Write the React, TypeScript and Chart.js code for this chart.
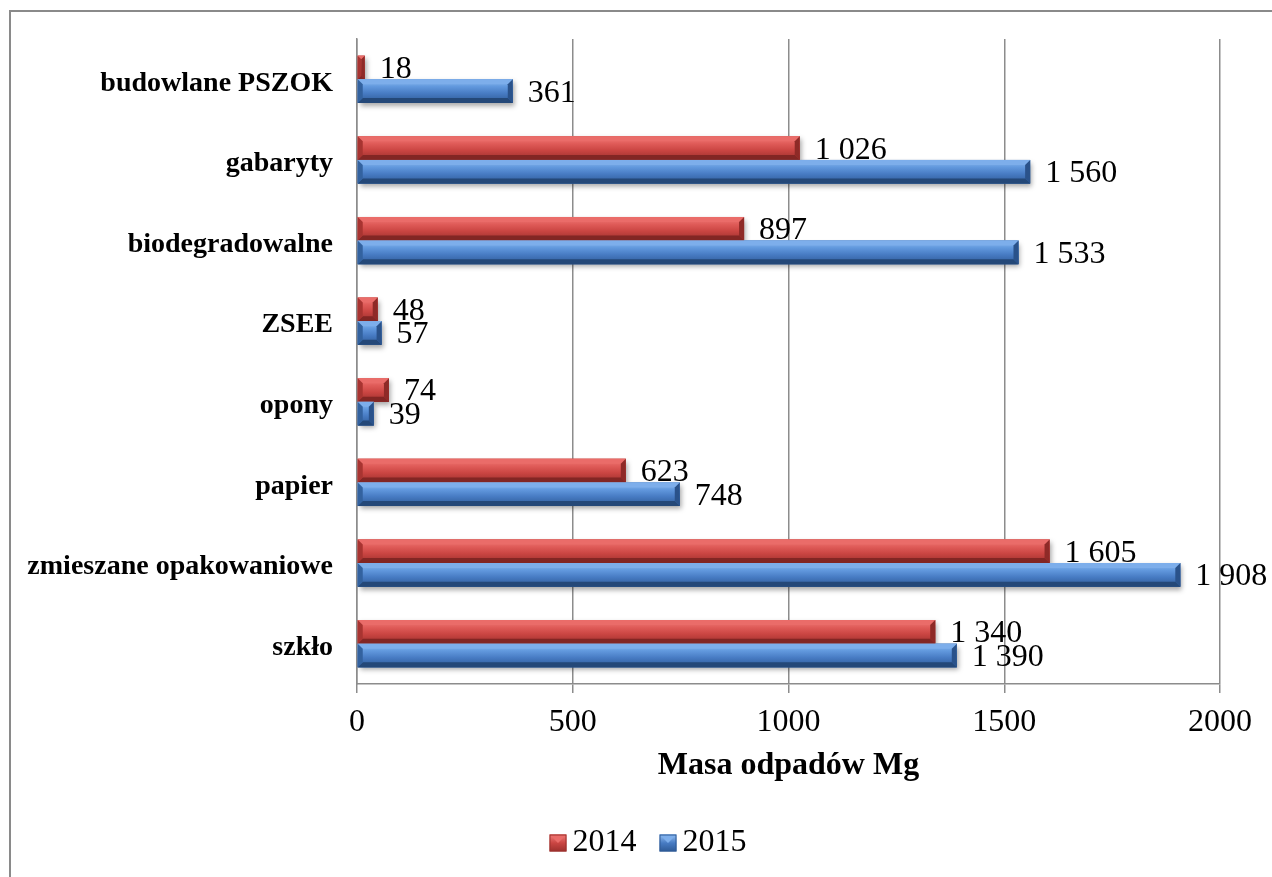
import React, { useEffect, useRef } from 'react';
import { Chart, registerables } from 'chart.js';

Chart.register(...registerables);

const categories = [
  'budowlane PSZOK',
  'gabaryty',
  'biodegradowalne',
  'ZSEE',
  'opony',
  'papier',
  'zmieszane opakowaniowe',
  'szkło',
];
const values2014 = [18, 1026, 897, 48, 74, 623, 1605, 1340];
const values2015 = [361, 1560, 1533, 57, 39, 748, 1908, 1390];
const seriesLabels = ['2014', '2015'];
const xTicks = [0, 500, 1000, 1500, 2000];
const axisTitle = 'Masa odpadów Mg';

const SERIF = '"Liberation Serif", "Times New Roman", Times, serif';

type Pal = { light: string; hi: string; mid: string; dark: string; left: string; right: string; bottom: string; top: string };
const palettes: Pal[] = [
  { light: '#F07E7B', hi: '#E05C59', mid: '#CA4542', dark: '#9C302D', left: '#A83431', right: '#8E2A27', bottom: '#822624', top: '#EA6C69' },
  { light: '#93BEF1', hi: '#6299DE', mid: '#477BC3', dark: '#2E5A96', left: '#33629F', right: '#2A528A', bottom: '#244878', top: '#7DAEEB' },
];

function fmt(v: number): string {
  if (v >= 1000) {
    return Math.floor(v / 1000) + ' ' + String(v % 1000).padStart(3, '0');
  }
  return String(v);
}

function poly(ctx: CanvasRenderingContext2D, pts: number[][], color: any) {
  ctx.beginPath();
  ctx.moveTo(pts[0][0], pts[0][1]);
  for (let i = 1; i < pts.length; i++) ctx.lineTo(pts[i][0], pts[i][1]);
  ctx.closePath();
  ctx.fillStyle = color;
  ctx.fill();
}

function drawBar(ctx: CanvasRenderingContext2D, L: number, R: number, T: number, B: number, pal: Pal) {
  const w = R - L;
  const h = B - T;
  if (w <= 0) return;
  const b = Math.min(5, w / 2, h / 2);
  const g = ctx.createLinearGradient(0, T, 0, B);
  g.addColorStop(0, pal.light);
  g.addColorStop(0.3, pal.hi);
  g.addColorStop(0.6, pal.mid);
  g.addColorStop(1, pal.dark);
  ctx.fillStyle = g;
  ctx.fillRect(L, T, w, h);
  poly(ctx, [[L, T], [R, T], [R - b, T + b], [L + b, T + b]], pal.top);
  poly(ctx, [[L, B], [R, B], [R - b, B - b], [L + b, B - b]], pal.bottom);
  poly(ctx, [[L, T], [L + b, T + b], [L + b, B - b], [L, B]], pal.left);
  poly(ctx, [[R, T], [R - b, T + b], [R - b, B - b], [R, B]], pal.right);
}

const frameAndBars = {
  id: 'frameAndBars',
  beforeDraw(chart: any) {
    const ctx = chart.ctx;
    ctx.save();
    ctx.fillStyle = '#ffffff';
    ctx.fillRect(0, 0, chart.width, chart.height);
    ctx.strokeStyle = '#8a8a8a';
    ctx.lineWidth = 2;
    ctx.strokeRect(10, 11, chart.width + 50, chart.height + 50);
    ctx.restore();
  },
  afterDatasetsDraw(chart: any) {
    const ctx = chart.ctx;
    const bars: any[] = [];
    chart.data.datasets.forEach((ds: any, di: number) => {
      const meta = chart.getDatasetMeta(di);
      meta.data.forEach((el: any, i: number) => {
        const p = el.getProps(['x', 'y', 'base', 'height'], true);
        bars.push({
          L: Math.min(p.base, p.x),
          R: Math.max(p.base, p.x),
          T: p.y - p.height / 2,
          B: p.y + p.height / 2,
          y: p.y,
          v: ds.data[i],
          pal: palettes[di],
        });
      });
    });
    ctx.save();
    bars.forEach((b) => {
      ctx.save();
      ctx.shadowColor = 'rgba(0,0,0,0.35)';
      ctx.shadowBlur = 5;
      ctx.shadowOffsetX = 2;
      ctx.shadowOffsetY = 3;
      ctx.fillStyle = b.pal.dark;
      ctx.fillRect(b.L, b.T, b.R - b.L, b.B - b.T);
      ctx.restore();
    });
    bars.forEach((b) => drawBar(ctx, b.L, b.R, b.T, b.B, b.pal));
    ctx.fillStyle = '#000000';
    ctx.font = '32px ' + SERIF;
    ctx.textAlign = 'left';
    ctx.textBaseline = 'middle';
    bars.forEach((b) => {
      ctx.fillText(fmt(b.v), b.R + 15, b.y + 2);
    });
    ctx.restore();
  },
  afterDraw(chart: any) {
    const ctx = chart.ctx;
    const yScale = chart.scales.y;
    ctx.save();
    // category labels
    ctx.fillStyle = '#000000';
    ctx.font = 'bold 28px ' + SERIF;
    ctx.textAlign = 'right';
    ctx.textBaseline = 'middle';
    categories.forEach((c, i) => {
      ctx.fillText(c, chart.chartArea.left - 24, yScale.getPixelForValue(i) + 4);
    });
    // legend
    ctx.font = '32px ' + SERIF;
    const box = 17;
    const gap = 6;
    const itemGap = 23;
    const widths = seriesLabels.map((s) => ctx.measureText(s).width);
    const total = widths.reduce((a, w) => a + box + gap + w, 0) + itemGap * (seriesLabels.length - 1);
    let x = 648 - total / 2;
    const cy = 843;
    seriesLabels.forEach((s, i) => {
      const pal = palettes[i];
      const top = cy - box / 2;
      const g = ctx.createLinearGradient(0, top, 0, top + box);
      g.addColorStop(0, pal.light);
      g.addColorStop(0.5, pal.mid);
      g.addColorStop(1, pal.dark);
      ctx.fillStyle = g;
      ctx.fillRect(x, top, box, box);
      poly(ctx, [[x, top], [x + box, top], [x + box / 2, top + box / 2]], pal.top);
      ctx.strokeStyle = pal.dark;
      ctx.lineWidth = 1;
      ctx.strokeRect(x + 0.5, top + 0.5, box - 1, box - 1);
      ctx.fillStyle = '#000000';
      ctx.textAlign = 'left';
      ctx.fillText(s, x + box + gap, cy);
      x += box + gap + widths[i] + itemGap;
    });
    ctx.restore();
  },
};

export default function App() {
  const canvasRef = useRef<HTMLCanvasElement | null>(null);

  useEffect(() => {
    const canvas = canvasRef.current;
    if (!canvas) return;
    const chart = new Chart(canvas, {
      type: 'bar',
      data: {
        labels: categories,
        datasets: [
          { label: seriesLabels[0], data: values2014, backgroundColor: palettes[0].mid, borderWidth: 0 },
          { label: seriesLabels[1], data: values2015, backgroundColor: palettes[1].mid, borderWidth: 0 },
        ],
      },
      options: {
        indexAxis: 'y',
        responsive: false,
        animation: false,
        devicePixelRatio: 1,
        datasets: { bar: { categoryPercentage: 0.585, barPercentage: 1.0 } },
        layout: { padding: { top: 39, right: 52, bottom: 0, left: 0 } },
        scales: {
          x: {
            type: 'linear',
            min: xTicks[0],
            max: xTicks[xTicks.length - 1],
            afterBuildTicks: (scale: any) => {
              scale.ticks = xTicks.map((v) => ({ value: v }));
            },
            afterFit: (scale: any) => {
              scale.height = 193;
            },
            grid: { display: true, color: '#8c8c8c', lineWidth: 1.5, tickLength: 9, drawTicks: true },
            border: { display: true, color: '#8c8c8c', width: 1.5 },
            ticks: {
              color: '#000000',
              padding: 10,
              font: { family: SERIF, size: 32 },
              callback: (v: any) => String(v),
            },
            title: {
              display: true,
              text: axisTitle,
              color: '#000000',
              font: { family: SERIF, size: 32, weight: 'bold' },
              padding: { top: 0, bottom: 92 },
            },
          },
          y: {
            afterFit: (scale: any) => {
              scale.width = 357;
            },
            grid: { display: false },
            border: { display: true, color: '#8c8c8c', width: 1.5 },
            ticks: { display: false },
          },
        },
        plugins: {
          legend: { display: false },
          tooltip: { enabled: false },
        },
      } as any,
      plugins: [frameAndBars],
    });
    return () => chart.destroy();
  }, []);

  return (
    <div style={{ position: 'fixed', left: 0, top: 0, width: 1272, height: 877, background: '#ffffff' }}>
      <canvas ref={canvasRef} width={1272} height={877} style={{ display: 'block', width: 1272, height: 877 }} />
    </div>
  );
}
